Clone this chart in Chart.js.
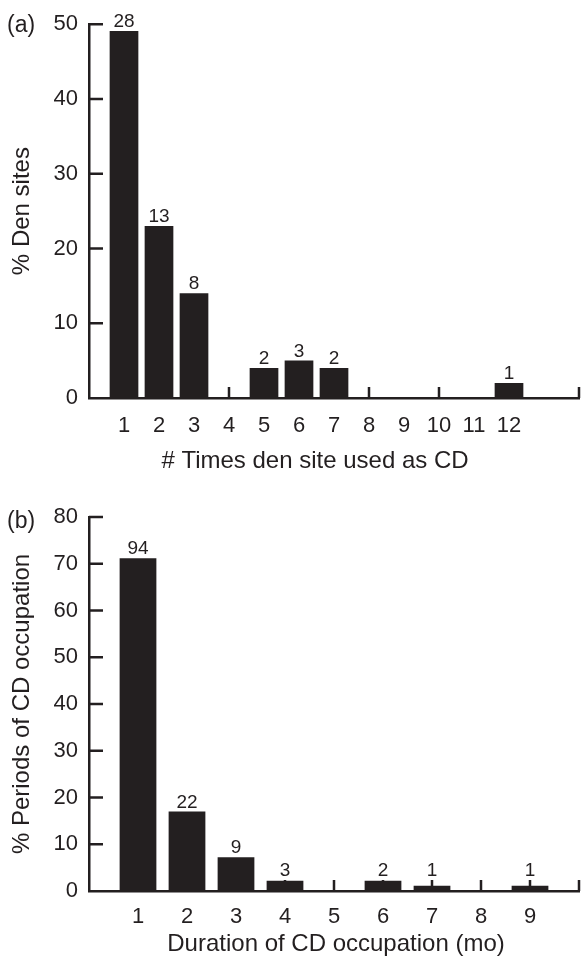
<!DOCTYPE html>
<html>
<head>
<meta charset="utf-8">
<script src="https://cdn.jsdelivr.net/npm/chart.js@4/dist/chart.umd.min.js"></script>
<style>
    body { margin: 0; background: #fff; }
    #figure { position: relative; width: 581px; height: 962px; background: #fff; }
    canvas { position: absolute; left: 0; }
    .panel {
        position: absolute;
        left: 7px;
        font: 23px "Liberation Sans", Arial, sans-serif;
        line-height: 1;
        color: #231f20;
    }
</style>
</head>
<body>
<div id="figure">
    <canvas id="den-chart" width="581" height="490" style="top:0"></canvas>
    <canvas id="dur-chart" width="581" height="482" style="top:480px"></canvas>
    <span class="panel" style="top:13px">(a)</span>
    <span class="panel" style="top:509px">(b)</span>
</div>
<script>
// (a) number of times a den site was used as CD
const denTimes = [1, 2, 3, 4, 5, 6, 7, 8, 9, 10, 11, 12];
const denPercent = [49.1, 23, 14, 0, 4, 5, 4, 0, 0, 0, 0, 2];
const denCounts = ['28', '13', '8', '', '2', '3', '2', '', '', '', '', '1'];
const denInnerTicks = [2, 4, 6, 8, 10, 12, 14];

// (b) duration of CD occupation in months
const durMonths = [1, 2, 3, 4, 5, 6, 7, 8, 9];
const durPercent = [71.2, 17, 7.2, 2.2, 0, 2.2, 1.1, 0, 1.1];
const durCounts = ['94', '22', '9', '3', '', '2', '1', '', '1'];
const durInnerTicks = [1, 2, 3, 4, 5, 6, 7, 8, 9, 10];

const INK = '#231f20';
const FONT = '"Liberation Sans", Arial, Helvetica, sans-serif';
const TICK_LEN = 11;

// short tick marks pointing into the plot, drawn under the bars
const innerTicks = {
    id: 'innerTicks',
    beforeDatasetsDraw(chart, args, opts) {
        const { ctx } = chart;
        const x = chart.scales.x;
        const y = chart.scales.y;
        ctx.save();
        ctx.strokeStyle = INK;
        ctx.lineWidth = 2.5;
        ctx.beginPath();
        opts.xMarks.forEach(v => {
            const px = x.getPixelForValue(v);
            ctx.moveTo(px, y.bottom);
            ctx.lineTo(px, y.bottom - TICK_LEN);
        });
        y.ticks.forEach(t => {
            if (t.value <= 0) {
                return;
            }
            const py = y.getPixelForValue(t.value);
            ctx.moveTo(x.left, py);
            ctx.lineTo(x.left + 14, py);
        });
        ctx.stroke();
        ctx.restore();
    }
};

// sample sizes above each bar, and the x axis title
const barCounts = {
    id: 'barCounts',
    afterDatasetsDraw(chart, args, opts) {
        const { ctx } = chart;
        const meta = chart.getDatasetMeta(0);
        const base = chart.scales.y.bottom;
        ctx.save();
        ctx.font = `19px ${FONT}`;
        ctx.fillStyle = INK;
        ctx.textAlign = 'center';
        ctx.textBaseline = 'alphabetic';
        meta.data.forEach((bar, i) => {
            const label = opts.counts[i];
            if (!label) {
                return;
            }
            const hasTick = opts.xMarks.includes(opts.xs[i]);
            const top = hasTick ? Math.min(bar.y, base - TICK_LEN) : bar.y;
            ctx.fillText(label, bar.x, top - 4);
        });

        ctx.font = `24px ${FONT}`;
        ctx.fillText(opts.title, opts.titleX, opts.titleY);
        ctx.restore();
    }
};

function buildChart(canvasId, cfg) {
    const points = cfg.xs.map((x, i) => ({ x, y: cfg.values[i] }));

    return new Chart(document.getElementById(canvasId), {
        type: 'bar',
        data: {
            datasets: [{
                data: points,
                backgroundColor: INK,
                borderWidth: 0,
                barPercentage: cfg.barPercentage,
                categoryPercentage: 1
            }]
        },
        plugins: [innerTicks, barCounts],
        options: {
            responsive: false,
            animation: false,
            devicePixelRatio: 1,
            layout: {
                padding: { top: cfg.padTop, right: 2, left: 0, bottom: 0 }
            },
            plugins: {
                legend: { display: false },
                tooltip: { enabled: false },
                innerTicks: { xMarks: cfg.innerTicks },
                barCounts: {
                    counts: cfg.counts,
                    xs: cfg.xs,
                    xMarks: cfg.innerTicks,
                    title: cfg.xTitle,
                    titleX: cfg.xTitleX,
                    titleY: cfg.xTitleY
                }
            },
            scales: {
                x: {
                    type: 'linear',
                    offset: false,
                    min: 0,
                    max: cfg.xMax,
                    grid: { display: false, drawTicks: false, offset: false },
                    border: { display: true, color: INK, width: 2.5 },
                    ticks: {
                        stepSize: 1,
                        autoSkip: false,
                        maxRotation: 0,
                        padding: cfg.xTickPad,
                        color: INK,
                        font: { family: FONT, size: 22 },
                        callback: value => (value >= 1 && value <= cfg.xs.length ? String(value) : '')
                    },
                    title: { display: false },
                    afterFit: scale => {
                        scale.height = cfg.xHeight;
                        scale.paddingLeft = 0;
                        scale.paddingRight = 0;
                    }
                },
                y: {
                    min: 0,
                    max: cfg.yMax,
                    grid: { display: false, drawTicks: false },
                    border: { display: true, color: INK, width: 2.5 },
                    ticks: {
                        stepSize: 10,
                        padding: 11,
                        color: INK,
                        font: { family: FONT, size: 22 }
                    },
                    title: {
                        display: true,
                        text: cfg.yTitle,
                        color: INK,
                        font: { family: FONT, size: 24 },
                        padding: { top: 8, bottom: 0 }
                    },
                    afterFit: scale => {
                        scale.width = 89;
                    }
                }
            }
        }
    });
}

buildChart('den-chart', {
    xs: denTimes,
    values: denPercent,
    counts: denCounts,
    innerTicks: denInnerTicks,
    xMax: 14,
    yMax: 50,
    barPercentage: 0.82,
    padTop: 24,
    xHeight: 92,
    xTickPad: 15,
    xTitle: '# Times den site used as CD',
    xTitleX: 315,
    xTitleY: 468,
    yTitle: '% Den sites'
});

buildChart('dur-chart', {
    xs: durMonths,
    values: durPercent,
    counts: durCounts,
    innerTicks: durInnerTicks,
    xMax: 10,
    yMax: 80,
    barPercentage: 0.75,
    padTop: 37,
    xHeight: 71,
    xTickPad: 13,
    xTitle: 'Duration of CD occupation (mo)',
    xTitleX: 336,
    xTitleY: 471,
    yTitle: '% Periods of CD occupation'
});
</script>
</body>
</html>
